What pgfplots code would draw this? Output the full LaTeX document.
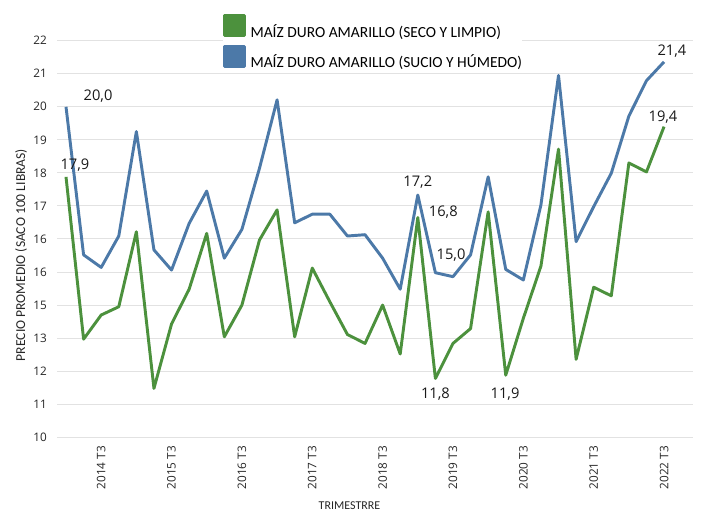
\documentclass[border=0pt]{standalone}
\usepackage{fontspec}
\setmainfont{Carlito}
\newfontfamily\numfont{Open Sans}
\usepackage{pgfplots}
\usepackage{pgfplotstable}
\pgfplotsset{compat=1.18}
\definecolor{cgreen}{RGB}{76,145,61}
\definecolor{cblue}{RGB}{76,121,168}
\definecolor{cgrid}{RGB}{226,226,226}

\pgfplotstableread{
i green blue
0 17.88 20.00
1 12.97 15.52
2 13.70 15.14
3 13.95 16.09
4 16.22 19.25
5 11.48 15.67
6 13.43 15.06
7 14.48 16.47
8 16.17 17.45
9 13.04 15.42
10 14.00 16.29
11 15.97 18.14
12 16.88 20.21
13 13.04 16.49
14 15.12 16.75
15 14.10 16.75
16 13.11 16.09
17 12.84 16.13
18 14.00 15.42
19 12.52 14.48
20 16.65 17.33
21 11.78 14.98
22 12.84 14.86
23 13.29 15.52
24 16.82 17.88
25 11.88 15.08
26 13.60 14.76
27 15.18 17.03
28 18.72 20.95
29 12.36 15.92
30 14.54 16.98
31 14.28 17.99
32 18.30 19.72
33 18.03 20.79
34 19.40 21.36
}\datatable

\begin{document}
\begin{tikzpicture}
\useasboundingbox (0pt,0pt) rectangle (527.25pt,383.25pt);
\begin{axis}[
  at={(42.75pt,55.28pt)}, anchor=south west,
  scale only axis, width=477pt, height=297.45pt,
  xmin=-0.512, xmax=35.646, ymin=10, ymax=22,
  clip=false,
  axis line style={draw=none},
  tick style={draw=none},
  major tick length=0pt,
  ytick={10,...,22},
  yticklabels={10,11,12,13,15,16,16,17,18,19,20,21,22},
  xtick={2,6,...,34},
  xticklabels={2014 T3,2015 T3,2016 T3,2017 T3,2018 T3,2019 T3,2020 T3,2021 T3,2022 T3},
  ymajorgrids, grid style={cgrid, line width=0.75pt},
  /pgf/number format/assume math mode=true,
  ticklabel style={font=\numfont\fontsize{8.8}{10}\selectfont, text=black!85},
  yticklabel style={anchor=east, inner sep=0pt},
  yticklabel shift=7.5pt,
  xticklabel style={rotate=90, anchor=east, inner sep=0pt},
  xticklabel shift=6.5pt,
  legend style={at={(rel axis cs:0.2605,1.0673)}, anchor=north west,
    draw=none, fill=white, inner sep=0pt, row sep=5.4pt,
    font=\fontsize{11.6}{13}\selectfont,
    nodes={inner sep=0pt, text depth=0pt}},
  legend cell align=left,
  legend image code/.code={\fill[#1] (0pt,-3.5pt) rectangle (15pt,11.5pt);},
  every axis plot/.append style={line width=2.2pt, line join=round},
]
\addplot[color=cgreen] table[x=i,y=green]{\datatable};
\addlegendentry{\hspace{3.5pt}MAÍZ DURO AMARILLO (SECO Y LIMPIO)}
\addplot[color=cblue] table[x=i,y=blue]{\datatable};
\addlegendentry{\hspace{3.5pt}MAÍZ DURO AMARILLO (SUCIO Y HÚMEDO)}

\begin{scope}[every node/.style={font=\numfont\fontsize{11}{12}\selectfont, text=black!90}]
\node at (axis cs:1.82,20.31) {20,0};
\node at (axis cs:0.51,18.24) {17,9};
\node at (axis cs:20.0,17.73) {17,2};
\node at (axis cs:21.45,16.82) {16,8};
\node at (axis cs:21.89,15.51) {15,0};
\node at (axis cs:21.0,11.31) {11,8};
\node at (axis cs:24.96,11.31) {11,9};
\node at (axis cs:33.94,19.70) {19,4};
\node at (axis cs:34.45,21.69) {21,4};
\end{scope}
\end{axis}
\node[rotate=90, font=\fontsize{10.2}{12}\selectfont, text=black!85] at (15.75pt,192pt) {PRECIO PROMEDIO (SACO 100 LIBRAS)};
\node[anchor=base, inner sep=0pt, font=\fontsize{9}{10}\selectfont, text=black!85] at (262.1pt,1.3pt) {TRIMESTRRE};
\end{tikzpicture}
\end{document}
